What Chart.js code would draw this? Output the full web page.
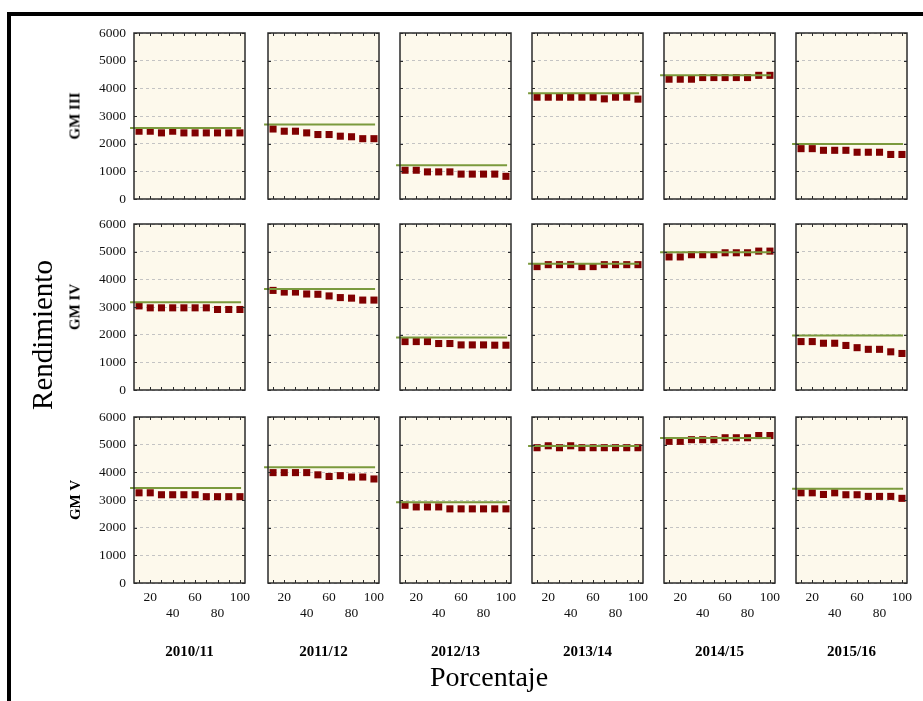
<!DOCTYPE html>
<html>
<head>
<meta charset="utf-8">
<script src="https://cdn.jsdelivr.net/npm/chart.js@4.4.0/dist/chart.umd.min.js"></script>
<style>
html, body { margin: 0; padding: 0; background: #fff; overflow: hidden; }
body { width: 923px; height: 701px; position: relative; font-family: "Liberation Serif", "Times New Roman", serif; }
#frame { position: absolute; left: 7px; top: 12px; width: 1000px; height: 1000px; border: 4px solid #000; box-sizing: border-box; }
canvas { position: absolute; }
.lbl { position: absolute; white-space: nowrap; color: #000; line-height: 1; }
.ctr { transform: translate(-50%, -50%); }
.rot { transform: translate(-50%, -50%) rotate(-90deg); }
</style>
</head>
<body>
<div id="frame"></div>
<script>
// categories / ticks
const pct = [10, 20, 30, 40, 50, 60, 70, 80, 90, 100];
const seasons = ['2010/11', '2011/12', '2012/13', '2013/14', '2014/15', '2015/16'];
const groups = ['GM III', 'GM IV', 'GM V'];
const yTicks = [0, 1000, 2000, 3000, 4000, 5000, 6000];
const xLabelsUpper = ['', '20', '', '', '', '60', '', '', '', '100'];
const xLabelsLower = ['', '', '', '40', '', '', '', '80', '', ''];
const meanSpan = [2, 101];

// GM III, one row per season
const gmIII = [
  [2450, 2450, 2390, 2450, 2390, 2390, 2390, 2390, 2390, 2390],
  [2530, 2450, 2450, 2390, 2330, 2330, 2270, 2250, 2180, 2180],
  [1040, 1040, 980, 980, 980, 900, 900, 900, 900, 820],
  [3680, 3680, 3680, 3680, 3680, 3680, 3620, 3680, 3680, 3610],
  [4330, 4330, 4330, 4390, 4390, 4390, 4390, 4390, 4470, 4470],
  [1820, 1820, 1760, 1760, 1760, 1690, 1690, 1690, 1610, 1610]
];
const gmIIIMean = [2570, 2690, 1220, 3820, 4470, 1990];

// GM IV
const gmIV = [
  [3040, 2970, 2970, 2970, 2970, 2970, 2970, 2910, 2910, 2910],
  [3600, 3540, 3540, 3470, 3460, 3400, 3340, 3320, 3250, 3250],
  [1750, 1750, 1750, 1680, 1680, 1630, 1630, 1630, 1620, 1620],
  [4460, 4530, 4530, 4530, 4460, 4460, 4530, 4530, 4530, 4530],
  [4810, 4810, 4890, 4890, 4890, 4960, 4960, 4960, 5020, 5020],
  [1750, 1750, 1690, 1690, 1610, 1530, 1470, 1470, 1380, 1320]
];
const gmIVMean = [3170, 3650, 1900, 4560, 4980, 1970];

// GM V
const gmV = [
  [3260, 3260, 3190, 3190, 3190, 3190, 3120, 3120, 3120, 3120],
  [3990, 3990, 3990, 3990, 3910, 3850, 3880, 3830, 3830, 3760],
  [2810, 2750, 2750, 2750, 2680, 2680, 2680, 2680, 2680, 2680],
  [4890, 4960, 4890, 4960, 4890, 4890, 4890, 4890, 4890, 4890],
  [5120, 5120, 5180, 5180, 5180, 5250, 5250, 5250, 5330, 5330],
  [3260, 3260, 3200, 3260, 3190, 3190, 3130, 3130, 3130, 3060]
];
const gmVMean = [3430, 4180, 2920, 4950, 5240, 3410];

const series = [gmIII, gmIV, gmV];
const means = [gmIIIMean, gmIVMean, gmVMean];

// layout of the grid
const panelLeft = [134, 268, 400, 532, 664, 796];
const panelTop = [33, 224, 417];
const panelW = 111, panelH = 166;
const padL = 60, padT = 22, padR = 14, padB = 34;
const serif = '"Liberation Serif", "Times New Roman", serif';

// cream background + frame with inward ticks
const panelFrame = {
  id: 'panelFrame',
  beforeDraw(chart) {
    const { ctx, chartArea: a } = chart;
    ctx.save();
    ctx.fillStyle = '#fdf9ec';
    ctx.fillRect(a.left, a.top, a.width, a.height);
    ctx.restore();
  },
  afterDraw(chart) {
    const { ctx, chartArea: a, scales: { x, y } } = chart;
    ctx.save();
    ctx.strokeStyle = '#2b2b2b';
    ctx.lineWidth = 1.5;
    ctx.strokeRect(a.left, a.top, a.width, a.height);
    ctx.lineWidth = 1;
    ctx.beginPath();
    pct.forEach(v => {
      const px = Math.round(x.getPixelForValue(v)) + 0.5;
      ctx.moveTo(px, a.top); ctx.lineTo(px, a.top + 3);
      ctx.moveTo(px, a.bottom); ctx.lineTo(px, a.bottom - 3);
    });
    yTicks.forEach(v => {
      const py = Math.round(y.getPixelForValue(v)) + 0.5;
      ctx.moveTo(a.left, py); ctx.lineTo(a.left + 3, py);
      ctx.moveTo(a.right, py); ctx.lineTo(a.right - 3, py);
    });
    ctx.stroke();
    ctx.restore();
  }
};

function makePanel(row, col) {
  const cv = document.createElement('canvas');
  cv.width = padL + panelW + padR;
  cv.height = padT + panelH + padB;
  cv.style.left = (panelLeft[col] - padL) + 'px';
  cv.style.top = (panelTop[row] - padT) + 'px';
  document.body.appendChild(cv);

  const vals = series[row][col];
  const m = means[row][col];

  new Chart(cv.getContext('2d'), {
    type: 'scatter',
    data: {
      datasets: [
        {
          type: 'line',
          data: meanSpan.map(x => ({ x: x, y: m })),
          borderColor: '#7b9a3d',
          borderWidth: 2,
          pointRadius: 0,
          clip: false,
          order: 1
        },
        {
          data: pct.map((x, i) => ({ x: x, y: vals[i] })),
          pointStyle: 'rect',
          pointRadius: 5,
          pointHoverRadius: 5,
          backgroundColor: '#800000',
          borderColor: '#800000',
          borderWidth: 0,
          order: 2
        }
      ]
    },
    options: {
      responsive: false,
      animation: false,
      devicePixelRatio: 1,
      layout: { padding: { left: 0, top: padT, right: padR, bottom: 0 } },
      plugins: { legend: { display: false }, tooltip: { enabled: false } },
      scales: {
        x: {
          type: 'linear',
          min: 5.5,
          max: 104.5,
          afterBuildTicks: s => { s.ticks = pct.map(v => ({ value: v })); },
          afterFit: s => { s.height = padB; },
          grid: { display: false, drawTicks: false },
          border: { display: false },
          ticks: {
            display: row === 2,
            autoSkip: false,
            maxRotation: 0,
            padding: 6,
            color: '#111',
            font: { family: serif, size: 13.5 },
            callback: (v, i) => [xLabelsUpper[i], xLabelsLower[i]]
          }
        },
        y: {
          min: 0,
          max: 6000,
          afterBuildTicks: s => { s.ticks = yTicks.map(v => ({ value: v })); },
          afterFit: s => { s.width = padL; },
          grid: { color: '#c4c4c4', lineWidth: 1, drawTicks: false },
          border: { display: false, dash: [3, 3] },
          ticks: {
            display: col === 0,
            padding: 8,
            color: '#111',
            font: { family: serif, size: 13.5 },
            callback: v => String(v)
          }
        }
      }
    },
    plugins: [panelFrame]
  });
}

function addLabel(text, x, y, size, bold, rotated) {
  const d = document.createElement('div');
  d.className = 'lbl ' + (rotated ? 'rot' : 'ctr');
  d.textContent = text;
  d.style.left = x + 'px';
  d.style.top = y + 'px';
  d.style.fontSize = size + 'px';
  d.style.fontWeight = bold ? 'bold' : 'normal';
  document.body.appendChild(d);
}

for (let r = 0; r < groups.length; r++) {
  for (let c = 0; c < seasons.length; c++) makePanel(r, c);
  addLabel(groups[r], 75, panelTop[r] + panelH / 2, 15, true, true);
}
seasons.forEach((s, c) => addLabel(s, panelLeft[c] + panelW / 2, 651, 15, true, false));
addLabel('Rendimiento', 42, 335, 29, false, true);
addLabel('Porcentaje', 489, 677, 28, false, false);
</script>
</body>
</html>
